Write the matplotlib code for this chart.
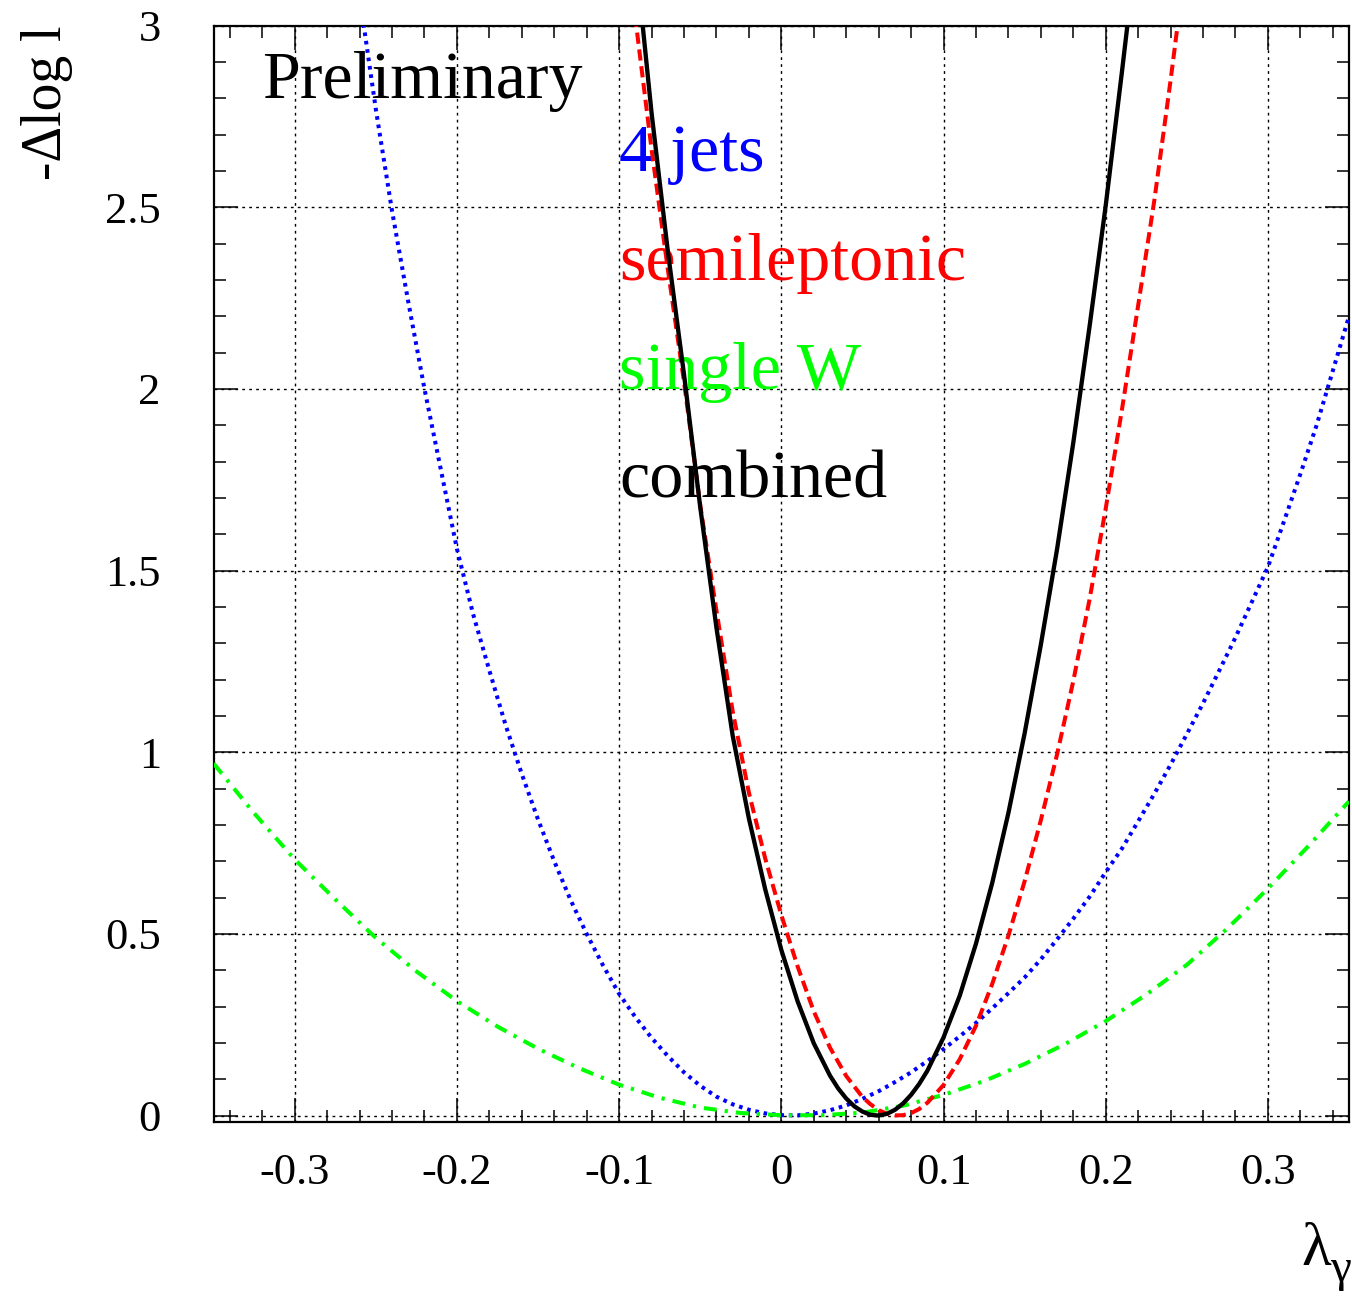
import matplotlib
matplotlib.use("Agg")
import matplotlib.pyplot as plt
from matplotlib.ticker import MultipleLocator, FixedLocator, FixedFormatter

plt.rcParams['font.family'] = ['Liberation Serif', 'DejaVu Serif']
plt.rcParams['axes.unicode_minus'] = False

# -dlogL scans
x_combined = [-0.09, -0.08, -0.07, -0.06, -0.05, -0.04, -0.03, -0.02, -0.01, 0.00,
              0.01, 0.02, 0.03, 0.035, 0.04, 0.045, 0.05, 0.055, 0.06, 0.065, 0.07,
              0.075, 0.08, 0.085, 0.09, 0.10,
              0.11, 0.12, 0.13, 0.14, 0.15, 0.16, 0.17, 0.18, 0.19, 0.20, 0.21, 0.22]
y_combined = [3.20, 2.76, 2.38, 2.04, 1.675, 1.343, 1.046, 0.818, 0.624, 0.456,
              0.315, 0.199, 0.110, 0.075, 0.047, 0.0255, 0.011, 0.002, 0.0, 0.0046, 0.0156,
              0.033, 0.057, 0.087, 0.123, 0.215,
              0.330, 0.473, 0.640, 0.833, 1.052, 1.296, 1.559, 1.852, 2.171, 2.505, 2.873, 3.253]

x_semilep = [-0.10, -0.09, -0.08, -0.07, -0.06, -0.05, -0.04, -0.03, -0.02, -0.01, 0.00,
             0.01, 0.02, 0.03, 0.04, 0.05, 0.055, 0.06, 0.065, 0.07, 0.075, 0.08, 0.085,
             0.09, 0.10, 0.11, 0.12, 0.13, 0.14, 0.15, 0.16, 0.17, 0.18, 0.19, 0.20,
             0.21, 0.22, 0.23, 0.24, 0.25]
y_semilep = [3.42, 3.02, 2.66, 2.33, 2.02, 1.68, 1.39, 1.113, 0.889, 0.709, 0.552,
             0.411, 0.287, 0.187, 0.109, 0.051, 0.031, 0.015, 0.005, 0.0004, 0.001, 0.0068, 0.018,
             0.035, 0.084, 0.155, 0.247, 0.362, 0.495, 0.645, 0.813, 0.994, 1.196, 1.42, 1.671,
             1.943, 2.23, 2.52, 2.85, 3.20]

x_4jets = [-0.26, -0.25, -0.24, -0.23, -0.22, -0.21, -0.20, -0.19, -0.18, -0.17,
           -0.16, -0.15, -0.14, -0.13, -0.12, -0.11, -0.10, -0.09, -0.08, -0.07,
           -0.06, -0.05, -0.04, -0.03, -0.02, -0.01, 0.00, 0.01, 0.02, 0.03,
           0.04, 0.05, 0.06, 0.07, 0.08, 0.09, 0.10, 0.11, 0.12, 0.13,
           0.14, 0.15, 0.16, 0.17, 0.18, 0.19, 0.20, 0.21, 0.22, 0.23,
           0.24, 0.25, 0.26, 0.27, 0.28, 0.29, 0.30, 0.31, 0.32, 0.33, 0.34, 0.35]
y_4jets = [3.08, 2.77, 2.49, 2.24, 2.00, 1.78, 1.56, 1.38, 1.225, 1.075,
           0.94, 0.815, 0.70, 0.594, 0.50, 0.414, 0.335, 0.271, 0.214, 0.164,
           0.119, 0.082, 0.052, 0.031, 0.016, 0.006, 0.001, 0.0006, 0.0054, 0.0147,
           0.028, 0.046, 0.067, 0.092, 0.119, 0.150, 0.183, 0.218, 0.255, 0.295,
           0.337, 0.38, 0.43, 0.485, 0.542, 0.602, 0.67, 0.735, 0.81, 0.886,
           0.966, 1.05, 1.135, 1.225, 1.316, 1.413, 1.51, 1.637, 1.766, 1.90, 2.05, 2.20]

x_singlew = [-0.35, -0.325, -0.30, -0.275, -0.25, -0.225, -0.20, -0.175, -0.15, -0.125,
             -0.10, -0.075, -0.05, -0.025, 0.0, 0.025, 0.05, 0.075, 0.10, 0.125,
             0.15, 0.175, 0.20, 0.225, 0.25, 0.275, 0.30, 0.325, 0.35]
y_singlew = [0.969, 0.832, 0.705, 0.595, 0.489, 0.397, 0.315, 0.245, 0.184, 0.131,
             0.085, 0.049, 0.022, 0.007, 0.001, 0.001, 0.008, 0.027, 0.057, 0.095,
             0.142, 0.197, 0.26, 0.333, 0.415, 0.515, 0.625, 0.742, 0.865]

x_ticks = [-0.3, -0.2, -0.1, 0, 0.1, 0.2, 0.3]
x_ticklabels = ['-0.3', '-0.2', '-0.1', '0', '0.1', '0.2', '0.3']
y_ticks = [0, 0.5, 1, 1.5, 2, 2.5, 3]
y_ticklabels = ['0', '0.5', '1', '1.5', '2', '2.5', '3']

labels = ['4 jets', 'semileptonic', 'single W', 'combined']
label_colors = ['#0000ff', '#ff0000', '#00ff00', '#000000']
label_y = [2.6, 2.3, 2.0, 1.7]

fig = plt.figure(figsize=(13.52, 12.96), dpi=100)
ax = fig.add_axes([0.158, 0.1339, 0.8398, 0.8463])

lw = 2.9
ax.plot(x_4jets, y_4jets, color='#0000ff', lw=lw, linestyle=(0, (0.9, 1.2)), zorder=3)
ax.plot(x_singlew, y_singlew, color='#00ff00', lw=lw, linestyle=(0, (3.2, 2.0, 0.8, 2.0)), zorder=3)
ax.plot(x_semilep, y_semilep, color='#ff0000', lw=lw, linestyle=(0, (2.8, 1.4)), zorder=4)
ax.plot(x_combined, y_combined, color='black', lw=3.1, zorder=5)

ax.set_xlim(-0.35, 0.35)
ax.set_ylim(-0.019, 3)

ax.xaxis.set_major_locator(FixedLocator(x_ticks))
ax.xaxis.set_major_formatter(FixedFormatter(x_ticklabels))
ax.yaxis.set_major_locator(FixedLocator(y_ticks))
ax.yaxis.set_major_formatter(FixedFormatter(y_ticklabels))
ax.xaxis.set_minor_locator(MultipleLocator(0.02))
ax.yaxis.set_minor_locator(MultipleLocator(0.1))

ax.tick_params(which='both', direction='in', top=True, right=True, width=1.1, color='black')
ax.tick_params(which='major', length=17)
ax.tick_params(which='minor', length=8.5)
ax.tick_params(axis='x', which='major', labelsize=32, pad=22)
ax.tick_params(axis='y', which='major', labelsize=32, pad=38)

for s in ax.spines.values():
    s.set_linewidth(1.6)

ax.grid(True, which='major', color='black', lw=1.0, linestyle=(0, (2, 3)), zorder=0)
ax.set_axisbelow(True)

ax.text(-0.32, 2.8, 'Preliminary', fontsize=49, va='baseline', ha='left', zorder=2)
for name, c, yy in zip(labels, label_colors, label_y):
    ax.text(-0.1, yy, name, color=c, fontsize=49, va='baseline', ha='left', zorder=2)

fig.text(47 / 1352, 1 - 26 / 1296, '-\u0394log l', rotation=90, fontsize=40,
         ha='center', va='top')
fig.text(1331 / 1352, 1 - 1265 / 1296, '\u03bb', fontsize=44, ha='right', va='baseline')
fig.text(1330 / 1352, 1 - 1281 / 1296, '\u03b3', fontsize=34, ha='left', va='baseline')

fig.savefig('out.png', dpi=100)
